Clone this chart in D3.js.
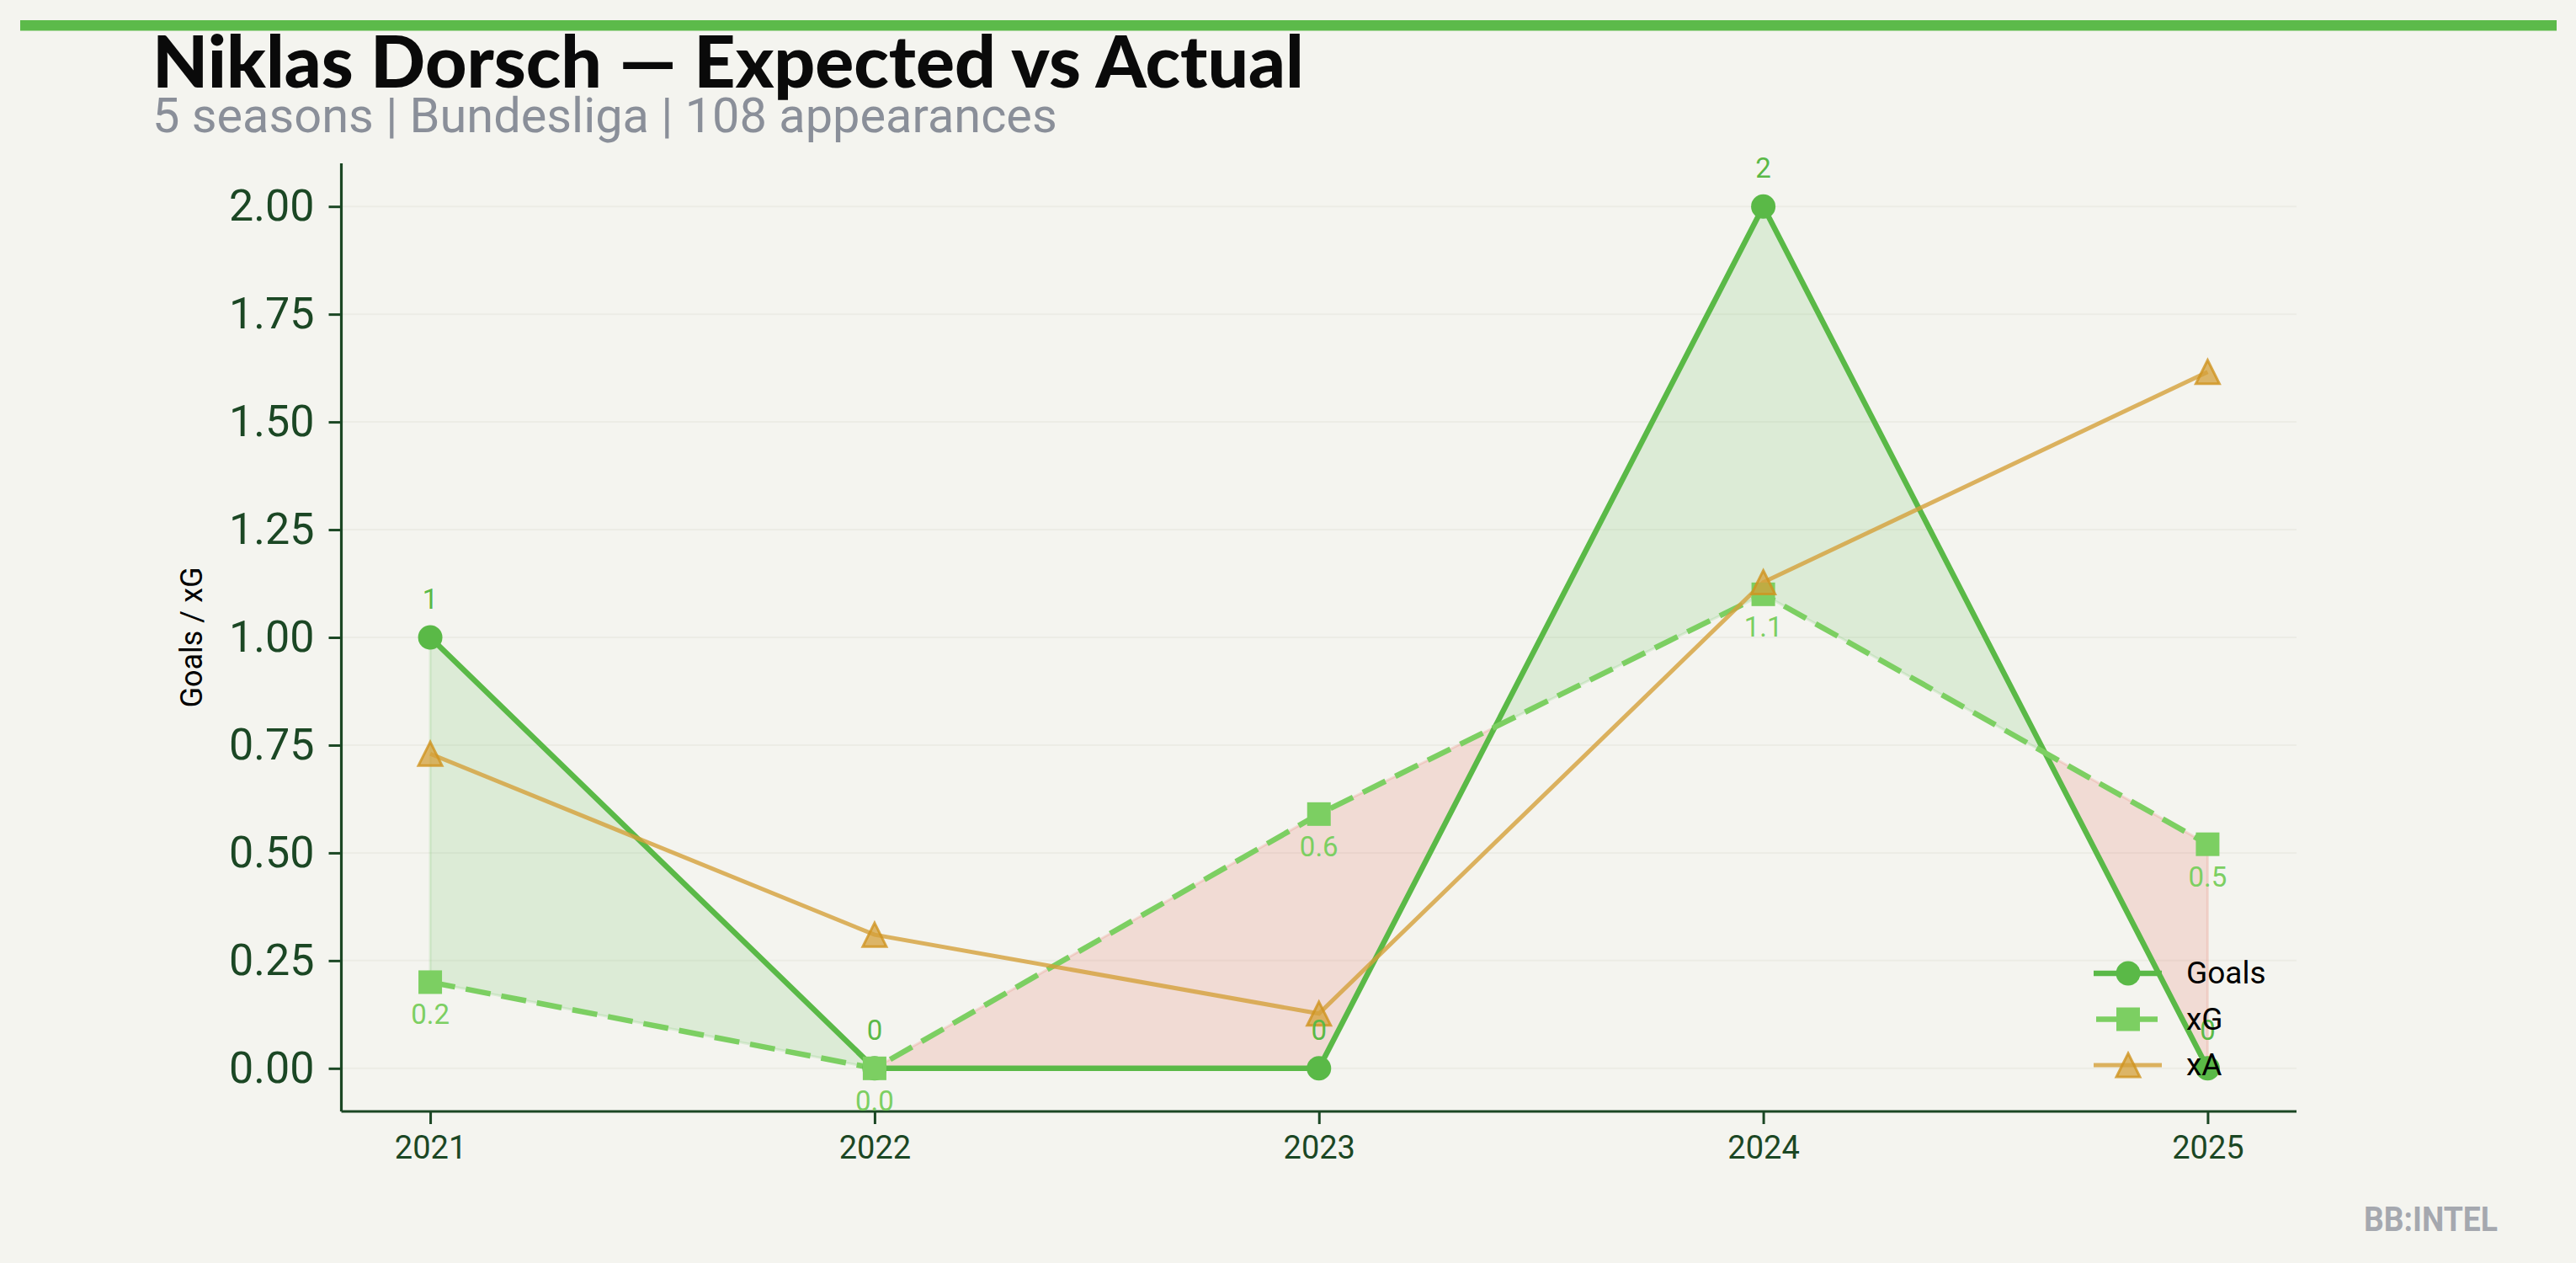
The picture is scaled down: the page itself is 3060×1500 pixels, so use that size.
<!DOCTYPE html>
<html>
<head>
<meta charset="utf-8">
<script src="https://cdn.jsdelivr.net/npm/d3@7"></script>
<style>
  html, body { margin: 0; padding: 0; background: #f4f4ef; }
  svg { display: block; }
</style>
</head>
<body>
<svg id="chart" width="3060" height="1500"></svg>
<script>
// ---------- data ----------
const seasons = [2021, 2022, 2023, 2024, 2025];
const goals   = [1, 0, 0, 2, 0];
const xG      = [0.2, 0.0, 0.59, 1.1, 0.52];
const xA      = [0.73, 0.31, 0.127, 1.128, 1.616];
const yTicks  = [0, 0.25, 0.5, 0.75, 1.0, 1.25, 1.5, 1.75, 2.0];
const seriesNames = ["Goals", "xG", "xA"];
const titleText = "Niklas Dorsch \u2014 Expected vs Actual";
const subtitleText = "5 seasons | Bundesliga | 108 appearances";
const yLabelText = "Goals / xG";
const brandText = "BB:INTEL";

// ---------- style ----------
const C = {
  bg: "#f4f4ef", goals: "#5ab947", xg: "#7ccf62", xa: "#d4a03a", xaEdge: "#d0941f",
  axis: "#1b4724", over: "#5ab947", under: "#e8776b", sub: "#8a8f99", brand: "#a5a8af", grid: "#ecece5"
};
const M = { left: 405.5, right: 2728, top: 194, bottom: 1320 };

const svg = d3.select("#chart");
svg.append("rect").attr("width", 3060).attr("height", 1500).attr("fill", C.bg);

// top bar
svg.append("rect").attr("x", 24).attr("y", 24).attr("width", 3013).attr("height", 12.5).attr("fill", "#5cba4a");

// title & subtitle
function fitText(sel, target) {
  const fs = parseFloat(sel.attr("font-size"));
  const len = sel.node().getComputedTextLength();
  sel.attr("font-size", fs * target / len);
}
const title = svg.append("text").attr("x", 181).attr("y", 104)
  .attr("font-family", "Lato, 'DejaVu Sans', sans-serif").attr("font-weight", 900)
  .attr("font-size", 80).attr("fill", "#0a0a0a").text(titleText);
fitText(title, 1368);
const sub = svg.append("text").attr("x", 181).attr("y", 157)
  .attr("font-family", "Roboto, sans-serif").attr("font-size", 52)
  .attr("fill", C.sub).text(subtitleText);
fitText(sub, 1075);

// ---------- scales ----------
const x = d3.scaleLinear().domain([2020.8, 2025.2]).range([M.left, M.right]);
const y = d3.scaleLinear().domain([-0.1, 2.1]).range([M.bottom, M.top]);

// grid
svg.append("g").selectAll("line").data(yTicks).join("line")
  .attr("x1", M.left).attr("x2", M.right)
  .attr("y1", d => y(d)).attr("y2", d => y(d))
  .attr("stroke", C.grid).attr("stroke-width", 2);

// ---------- fill between goals and xG ----------
const pts = [];
for (let i = 0; i < seasons.length; i++) {
  pts.push({ x: seasons[i], g: goals[i], e: xG[i] });
  if (i < seasons.length - 1) {
    const d0 = goals[i] - xG[i], d1 = goals[i + 1] - xG[i + 1];
    if (d0 * d1 < 0) {
      const t = d0 / (d0 - d1);
      const gv = goals[i] + t * (goals[i + 1] - goals[i]);
      pts.push({ x: seasons[i] + t * (seasons[i + 1] - seasons[i]), g: gv, e: gv });
    }
  }
}
const regions = [];
let cur = null;
for (let j = 0; j < pts.length - 1; j++) {
  const a = pts[j], b = pts[j + 1];
  const pos = ((a.g - a.e) + (b.g - b.e)) / 2 >= 0;
  if (cur && cur.pos === pos) cur.pts.push(b);
  else { cur = { pos, pts: [a, b] }; regions.push(cur); }
}
const area = d3.area().x(d => x(d.x)).y0(d => y(d.e)).y1(d => y(d.g));
svg.append("g").selectAll("path").data(regions).join("path")
  .attr("d", d => area(d.pts))
  .attr("fill", d => d.pos ? C.over : C.under)
  .attr("fill-opacity", d => d.pos ? 0.15 : 0.2)
  .attr("stroke", d => d.pos ? C.over : C.under)
  .attr("stroke-opacity", d => d.pos ? 0.15 : 0.2)
  .attr("stroke-width", 3)
  .attr("stroke-linejoin", "round");

// ---------- axes ----------
const yAxis = d3.axisLeft(y).tickValues(yTicks).tickFormat(d3.format(".2f")).tickSize(15).tickPadding(17);
const gy = svg.append("g").attr("transform", `translate(${M.left},0)`).call(yAxis);
const xAxis = d3.axisBottom(x).tickValues(seasons).tickFormat(d3.format("d")).tickSize(15).tickPadding(14);
const gx = svg.append("g").attr("transform", `translate(0,${M.bottom})`).call(xAxis);
[gy, gx].forEach(g => {
  g.select(".domain").attr("stroke", C.axis).attr("stroke-width", 3.2);
  g.selectAll(".tick line").attr("stroke", C.axis).attr("stroke-width", 3);
  g.selectAll(".tick text").attr("fill", C.axis).attr("font-family", "Roboto, sans-serif");
});
gy.select(".domain").attr("d", `M0,${M.top}V${M.bottom}`);
gx.select(".domain").attr("d", `M${M.left},0H${M.right}`);
gy.selectAll(".tick text").attr("font-size", 52);
gx.selectAll(".tick text").attr("font-size", 38);

svg.append("text")
  .attr("transform", `translate(240,${(M.top + M.bottom) / 2}) rotate(-90)`)
  .attr("text-anchor", "middle").attr("font-family", "Roboto, sans-serif")
  .attr("font-size", 36).attr("fill", "#000").text(yLabelText);

// ---------- lines ----------
const idx = d3.range(seasons.length);
const line = arr => d3.line().x(i => x(seasons[i])).y(i => y(arr[i]))(idx);

svg.append("path").attr("d", line(goals)).attr("fill", "none")
  .attr("stroke", C.goals).attr("stroke-width", 6.5).attr("stroke-linejoin", "round");
svg.append("path").attr("d", line(xG)).attr("fill", "none")
  .attr("stroke", C.xg).attr("stroke-width", 6.5).attr("stroke-dasharray", "30,13");
svg.append("path").attr("d", line(xA)).attr("fill", "none")
  .attr("stroke", C.xa).attr("stroke-opacity", 0.8).attr("stroke-width", 5);

// markers
const tri = d3.symbol().type(d3.symbolTriangle).size(400);
svg.append("g").selectAll("circle").data(idx).join("circle")
  .attr("cx", i => x(seasons[i])).attr("cy", i => y(goals[i])).attr("r", 14.5).attr("fill", C.goals);
svg.append("g").selectAll("rect").data(idx).join("rect")
  .attr("x", i => x(seasons[i]) - 14).attr("y", i => y(xG[i]) - 14)
  .attr("width", 28).attr("height", 28).attr("fill", C.xg);
function triPath(cx, cy, s) {
  return `M${cx},${cy - s}L${cx + s},${cy + s}L${cx - s},${cy + s}Z`;
}
svg.append("g").selectAll("path").data(idx).join("path")
  .attr("d", i => triPath(x(seasons[i]), y(xA[i]), 14))
  .attr("fill", C.xa).attr("fill-opacity", 0.75)
  .attr("stroke", C.xaEdge).attr("stroke-opacity", 0.8).attr("stroke-width", 3).attr("stroke-linejoin", "miter");

// data labels
svg.append("g").selectAll("text").data(idx).join("text")
  .attr("x", i => x(seasons[i])).attr("y", i => y(goals[i]) - 34)
  .attr("text-anchor", "middle").attr("font-family", "Roboto, sans-serif").attr("font-size", 33)
  .attr("fill", C.goals).text(i => d3.format("d")(goals[i]));
svg.append("g").selectAll("text").data(idx).join("text")
  .attr("x", i => x(seasons[i])).attr("y", i => y(xG[i]) + 50)
  .attr("text-anchor", "middle").attr("font-family", "Roboto, sans-serif").attr("font-size", 33)
  .attr("fill", C.xg).text(i => d3.format(".1f")(xG[i]));

// ---------- legend ----------
const leg = svg.append("g").attr("transform", "translate(2487,1156)");
const rowH = 54.5;
seriesNames.forEach((name, k) => {
  const g = leg.append("g").attr("transform", `translate(0,${k * rowH})`);
  if (k === 0) {
    g.append("line").attr("x1", 0).attr("x2", 81).attr("stroke", C.goals).attr("stroke-width", 6.5);
    g.append("circle").attr("cx", 41).attr("r", 14.5).attr("fill", C.goals);
  } else if (k === 1) {
    g.append("line").attr("x1", 3).attr("x2", 78).attr("stroke", C.xg).attr("stroke-width", 6.5).attr("stroke-dasharray", "30,13");
    g.append("rect").attr("x", 27).attr("y", -14).attr("width", 28).attr("height", 28).attr("fill", C.xg);
  } else {
    g.append("line").attr("x1", 0).attr("x2", 81).attr("stroke", C.xa).attr("stroke-opacity", 0.8).attr("stroke-width", 5);
    g.append("path").attr("d", triPath(41, 0, 14)).attr("fill", C.xa).attr("fill-opacity", 0.75)
      .attr("stroke", C.xaEdge).attr("stroke-opacity", 0.8).attr("stroke-width", 3);
  }
  g.append("text").attr("x", 110).attr("y", 12).attr("font-family", "Roboto, sans-serif")
    .attr("font-size", 37).attr("fill", "#000").text(name);
});

// brand
svg.append("text").attr("x", 2808).attr("y", 1462)
  .attr("font-family", "Roboto, sans-serif").attr("font-weight", 700).attr("font-size", 40)
  .attr("textLength", 159).attr("lengthAdjust", "spacingAndGlyphs")
  .attr("fill", C.brand).text(brandText);
</script>
</body>
</html>
